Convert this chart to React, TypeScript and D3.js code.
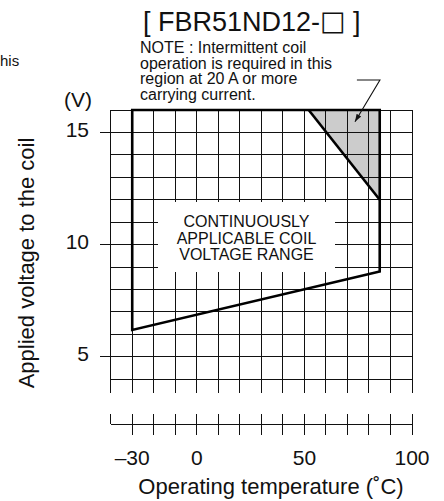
import * as d3 from 'd3';

// grid lines (°C every 10, V every 1)
const gridTemps = [-40, -30, -20, -10, 0, 10, 20, 30, 40, 50, 60, 70, 80, 90, 100];
const gridVolts = [4, 5, 6, 7, 8, 9, 10, 11, 12, 13, 14, 15, 16];
const tempLabels = [-30, 0, 50, 100];
const voltLabels = [5, 10, 15];

// continuously applicable coil voltage range (outline)
const rangeTemps = [-30, -30, 85, 85];
const rangeVolts = [16, 6.2, 8.8, 16];

// intermittent-operation region (shaded)
const limitTemps = [52, 85, 85];
const limitVolts = [16, 16, 12];

// note leader arrow
const arrowTemps = [74.4, 85.1, 73.5];
const arrowVolts = [17.34, 17.34, 15.48];

const noteLines = [
  'NOTE : Intermittent coil',
  'operation is required in this',
  'region at 20 A or more',
  'carrying current.',
];
const boxLines = ['CONTINUOUSLY', 'APPLICABLE COIL', 'VOLTAGE RANGE'];

const W = 444;
const H = 501;
const FONT = '"Liberation Sans", Arial, Helvetica, sans-serif';

export default function App() {
  const x = d3.scaleLinear().domain([-40, 100]).range([110.7, 412]);
  const y = d3.scaleLinear().domain([4, 16]).range([379.3, 110]);

  const gridBottom = y(3.4);
  const axisY = y(2);
  const line = d3.line<[number, number]>().x((d) => x(d[0])).y((d) => y(d[1]));

  const rangePts = rangeTemps.map((t, i) => [t, rangeVolts[i]] as [number, number]);
  const limitPts = limitTemps.map((t, i) => [t, limitVolts[i]] as [number, number]);
  const arrowPts = arrowTemps.map((t, i) => [t, arrowVolts[i]] as [number, number]);

  const fmt = (d: number) => (d < 0 ? `–${-d}` : `${d}`);

  return (
    <svg
      width={W}
      height={H}
      style={{ position: 'absolute', left: 0, top: 0, background: '#fff' }}
      fontFamily={FONT}
      fill="#111"
    >
      <defs>
        <marker id="tip" viewBox="0 0 10 10" refX="10" refY="5" markerWidth="7" markerHeight="7" orient="auto">
          <path d="M0,1.5 L10,5 L0,8.5 z" fill="#111" />
        </marker>
      </defs>

      {/* shaded region */}
      <path d={line(limitPts) + 'Z'} fill="#cccccc" stroke="none" />

      {/* grid */}
      <g stroke="#111" strokeWidth={1} shapeRendering="crispEdges">
        {gridTemps.map((t) => (
          <line key={'v' + t} x1={x(t)} x2={x(t)} y1={y(16)} y2={gridBottom} />
        ))}
        {gridVolts.map((v) => (
          <line key={'h' + v} x1={x(-40)} x2={x(100)} y1={y(v)} y2={y(v)} />
        ))}
        {voltLabels.map((v) => (
          <line key={'yt' + v} x1={x(-40) - 11} x2={x(-40)} y1={y(v)} y2={y(v)} />
        ))}
        {/* broken temperature axis */}
        <line x1={x(-40)} x2={x(100)} y1={axisY} y2={axisY} />
        {gridTemps.map((t) => (
          <line key={'xt' + t} x1={x(t)} x2={x(t)} y1={axisY - 10} y2={t === -40 ? axisY : axisY + 11} />
        ))}
      </g>

      {/* label box */}
      <rect x={158} y={202} width={177} height={70} fill="#fff" />
      <text textAnchor="middle" fontSize={16}>
        {boxLines.map((s, i) => (
          <tspan key={s} x={246.5} y={227 + i * 16.7}>
            {s}
          </tspan>
        ))}
      </text>

      {/* range outline */}
      <path d={line(rangePts) + 'Z'} fill="none" stroke="#000" strokeWidth={2.6} strokeLinejoin="miter" />
      <path d={line([limitPts[0], limitPts[2]])!} fill="none" stroke="#000" strokeWidth={2.6} />

      {/* arrow */}
      <path d={line(arrowPts)!} fill="none" stroke="#111" strokeWidth={1.1} markerEnd="url(#tip)" />

      {/* y tick labels */}
      {voltLabels.map((v) => (
        <text key={'yl' + v} x={89} y={y(v) + 4.5} textAnchor="end" fontSize={21}>
          {v}
        </text>
      ))}
      <text x={78} y={107} textAnchor="middle" fontSize={21}>
        (V)
      </text>

      {/* x tick labels */}
      {tempLabels.map((t) => (
        <text key={'xl' + t} x={x(t)} y={465} textAnchor="middle" fontSize={21}>
          {fmt(t)}
        </text>
      ))}

      <text x={271} y={494} textAnchor="middle" fontSize={22}>
        Operating temperature (˚C)
      </text>
      <text transform="translate(34,263) rotate(-90)" textAnchor="middle" fontSize={22}>
        Applied voltage to the coil
      </text>

      {/* title and note */}
      <text x={143} y={31} fontSize={27}>
        [ FBR51ND12-
        <tspan fontFamily='"DejaVu Sans", sans-serif' fontSize={27} fill="#111" dy={-1}>
          □
        </tspan>
        <tspan dy={1}> ]</tspan>
      </text>
      <text fontSize={16}>
        {noteLines.map((s, i) => (
          <tspan key={s} x={140} y={53 + i * 15.5}>
            {s}
          </tspan>
        ))}
      </text>

      {/* fragment of neighbouring text */}
      <text x={0} y={66} fontSize={15}>
        his
      </text>
    </svg>
  );
}
